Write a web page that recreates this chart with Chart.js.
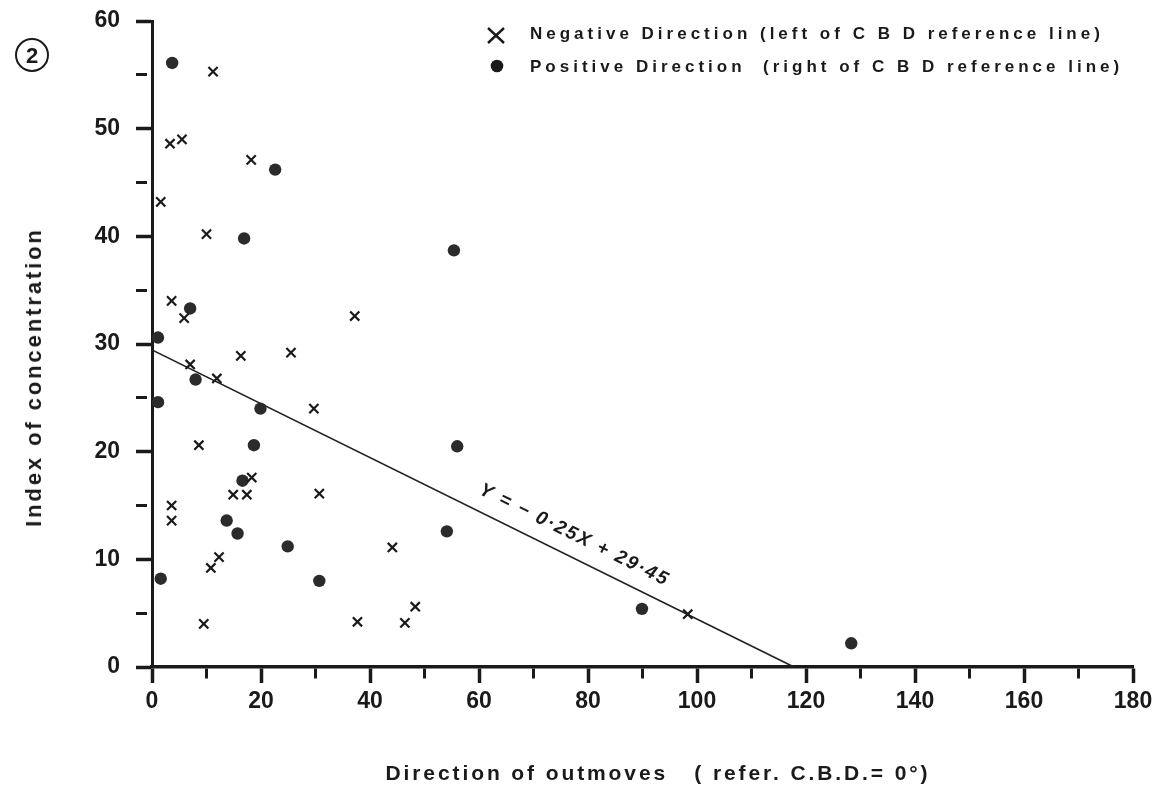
<!DOCTYPE html>
<html>
<head>
<meta charset="utf-8">
<script src="https://cdn.jsdelivr.net/npm/chart.js@4.4.1/dist/chart.umd.min.js"></script>
<style>
  body { margin: 0; background: #fff; }
  #wrap { position: relative; width: 1160px; height: 797px; }
  .lbl { position: absolute; font-family: "Liberation Sans", Arial, sans-serif; font-weight: bold; color: #1a1a1a; white-space: pre; }
  #circ { left: 15px; top: 38px; width: 30px; height: 30px; border: 2px solid #1a1a1a; border-radius: 50%; text-align: center; line-height: 31px; font-size: 22px; }
  .leg { font-size: 17px; letter-spacing: 4px; }
  #ytitle { left: 34px; top: 377px; font-size: 22px; letter-spacing: 2.9px; transform: translate(-50%, -50%) rotate(-90deg); }
  #xtitle { left: 658px; top: 773px; font-size: 21px; letter-spacing: 2.9px; transform: translate(-50%, -50%); }
  #legsvg { position: absolute; left: 0; top: 0; }
</style>
</head>
<body>
<div id="wrap">
  <canvas id="chart" width="1160" height="797"></canvas>
  <svg id="legsvg" width="1160" height="100">
    <line x1="488" y1="28" x2="504" y2="43" stroke="#1a1a1a" stroke-width="2.4"/>
    <line x1="504" y1="28" x2="488" y2="43" stroke="#1a1a1a" stroke-width="2.4"/>
    <circle cx="497" cy="66" r="6.3" fill="#1a1a1a"/>
  </svg>
  <div class="lbl" id="circ">2</div>
  <div class="lbl leg" style="left:530px; top:24px;">Negative Direction (left of C B D reference line)</div>
  <div class="lbl leg" style="left:530px; top:57px;">Positive Direction  (right of C B D reference line)</div>
  <div class="lbl" id="ytitle">Index of concentration</div>
  <div class="lbl" id="xtitle">Direction of outmoves   ( refer. C.B.D.= 0°)</div>
</div>
<script>
// Negative direction (crosses)
const negX = [11.2, 3.3, 5.5, 18.2, 1.6, 10.0, 3.6, 5.9, 16.3, 25.5, 37.2, 7.0, 11.9, 29.7, 8.6,
  18.3, 14.9, 17.4, 30.7, 3.6, 3.6, 44.1, 12.3, 10.8, 9.5, 37.7, 48.3, 46.4, 98.3];
const negY = [55.3, 48.6, 49.0, 47.1, 43.2, 40.2, 34.0, 32.4, 28.9, 29.2, 32.6, 28.1, 26.8, 24.0, 20.6,
  17.6, 16.0, 16.0, 16.1, 15.0, 13.6, 11.1, 10.2, 9.2, 4.0, 4.2, 5.6, 4.1, 4.9];

// Positive direction (dots)
const posX = [3.7, 22.6, 16.9, 7.0, 1.1, 8.0, 1.1, 19.9, 18.7, 16.6, 13.7, 15.7, 24.9, 1.6, 30.7,
  55.4, 56.0, 54.1, 89.9, 128.3];
const posY = [56.1, 46.2, 39.8, 33.3, 30.6, 26.7, 24.6, 24.0, 20.6, 17.3, 13.6, 12.4, 11.2, 8.2, 8.0,
  38.7, 20.5, 12.6, 5.4, 2.2];

// regression Y = -0.25X + 29.45
const slope = -0.25;
const intercept = 29.45;
const eqLabel = "Y = − 0·25X + 29·45";

const xTicks = [0, 20, 40, 60, 80, 100, 120, 140, 160, 180];
const yTicks = [0, 10, 20, 30, 40, 50, 60];

const ink = "#1a1a1a";
const toPts = (xs, ys) => xs.map((x, i) => ({ x: x, y: ys[i] }));
const xEnd = -intercept / slope;

// writes the equation along the fitted line
const eqPlugin = {
  id: "eqText",
  afterDatasetsDraw(chart) {
    const { ctx, scales } = chart;
    const x0 = scales.x.getPixelForValue(0), y0 = scales.y.getPixelForValue(intercept);
    const x1 = scales.x.getPixelForValue(xEnd), y1 = scales.y.getPixelForValue(0);
    const ang = Math.atan2(y1 - y0, x1 - x0);
    const mx = 75.8;
    const px = scales.x.getPixelForValue(mx), py = scales.y.getPixelForValue(slope * mx + intercept);
    ctx.save();
    ctx.translate(px, py);
    ctx.rotate(ang);
    ctx.fillStyle = ink;
    ctx.font = "italic bold 19px 'Liberation Sans', Arial, sans-serif";
    ctx.textAlign = "center";
    ctx.textBaseline = "middle";
    ctx.letterSpacing = "2px";
    ctx.fillText(eqLabel, 0, -21);
    ctx.restore();
  }
};

new Chart(document.getElementById("chart"), {
  type: "scatter",
  data: {
    datasets: [
      {
        label: "Negative Direction",
        data: toPts(negX, negY),
        pointStyle: "crossRot",
        pointRadius: 6.5,
        borderColor: ink,
        borderWidth: 2.2,
        backgroundColor: ink,
      },
      {
        label: "Positive Direction",
        data: toPts(posX, posY),
        pointStyle: "circle",
        pointRadius: 6.2,
        borderWidth: 0,
        backgroundColor: "#2b2b2b",
      },
      {
        type: "line",
        label: "fit",
        data: [{ x: 0, y: intercept }, { x: xEnd, y: 0 }],
        borderColor: "#222",
        borderWidth: 1.7,
        pointRadius: 0,
        fill: false,
      },
    ],
  },
  options: {
    responsive: false,
    animation: false,
    layout: { padding: { top: 21, right: 27, left: 0, bottom: 0 } },
    plugins: { legend: { display: false }, tooltip: { enabled: false } },
    scales: {
      x: {
        type: "linear",
        min: 0,
        max: 180,
        afterFit: (s) => { s.height = 130; },
        border: { width: 3.5, color: ink },
        grid: {
          drawOnChartArea: false,
          tickLength: 16,
          tickColor: ink,
          tickWidth: (c) => (c.tick && c.tick.value % 20 === 0 ? 3.5 : 3),
          tickBorderDash: (c) => (c.tick && c.tick.value % 20 === 0 ? [] : [10, 40]),
        },
        ticks: {
          stepSize: 10,
          padding: 5,
          color: ink,
          font: { family: "'Liberation Sans', Arial, sans-serif", size: 23, weight: "bold" },
          callback: (v) => (xTicks.includes(v) ? String(v) : ""),
        },
      },
      y: {
        type: "linear",
        min: 0,
        max: 60,
        afterFit: (s) => { s.width = 152; s.paddingTop = 0; s.paddingBottom = 0; },
        border: { width: 3, color: ink },
        grid: {
          drawOnChartArea: false,
          tickLength: 16,
          tickColor: ink,
          tickWidth: (c) => (c.tick && c.tick.value % 10 === 0 ? 3.5 : 3),
          tickBorderDash: (c) => (c.tick && c.tick.value % 10 === 0 ? [] : [11, 40]),
        },
        ticks: {
          stepSize: 5,
          padding: 16,
          color: ink,
          font: { family: "'Liberation Sans', Arial, sans-serif", size: 23, weight: "bold" },
          callback: (v) => (yTicks.includes(v) ? String(v) : ""),
        },
      },
    },
  },
  plugins: [eqPlugin],
});
</script>
</body>
</html>
